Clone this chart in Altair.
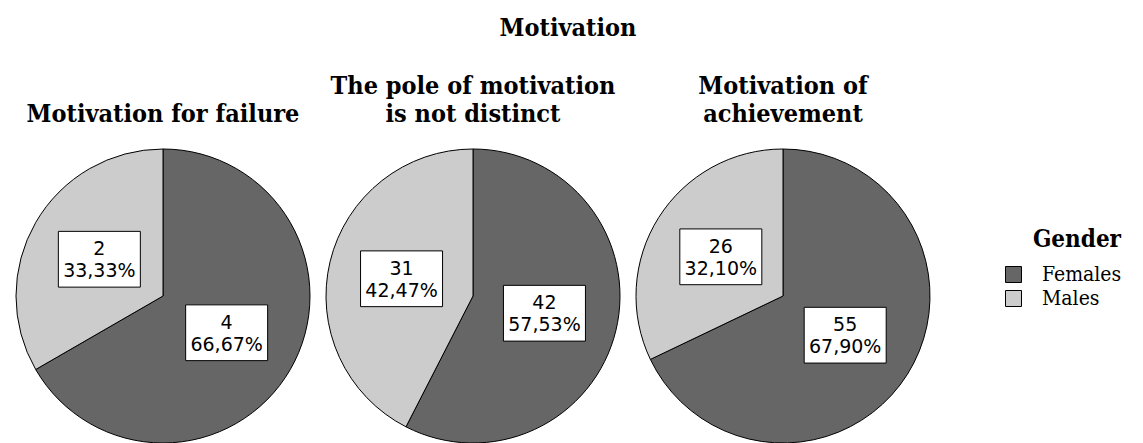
import altair as alt
import pandas as pd

# ---- data ----
categories = ["Motivation for failure",
              "The pole of motivation is not distinct",
              "Motivation of achievement"]
title_lines = [["Motivation for failure"],
               ["The pole of motivation", "is not distinct"],
               ["Motivation of", "achievement"]]
genders = ["Females", "Males"]
females = [4, 42, 55]
males = [2, 31, 26]

rows = []
for i, cat in enumerate(categories):
    total = females[i] + males[i]
    for k, (g, vals) in enumerate(zip(genders, [females, males])):
        v = vals[i]
        pct = f"{v / total * 100:.2f}".replace(".", ",") + "%"
        rows.append({"category": cat, "gender": g, "order": k,
                     "count": v, "label": f"{v}\n{pct}"})
df = pd.DataFrame(rows)

S = 294          # pie diameter (panel size)
LABEL_R = 0.5    # label radius as fraction of pie radius
TITLE_FONT = "DejaVu Serif Condensed"

color_scale = alt.Scale(domain=genders, range=["#666666", "#cccccc"])


def panel(i):
    base = alt.Chart(df).transform_filter(alt.datum.category == categories[i])
    arcs = base.mark_arc(stroke="black", strokeWidth=1).encode(
        theta=alt.Theta("count:Q", stack=True),
        color=alt.Color("gender:N", scale=color_scale,
                        legend=alt.Legend(title="Gender")),
        order=alt.Order("order:Q"),
    )
    pos = (base
           .transform_joinaggregate(total="sum(count)")
           .transform_window(cum="sum(count)", sort=[alt.SortField("order")],
                             frame=[None, 0])
           .transform_calculate(
               ang="(datum.cum - datum.count / 2) / datum.total * 2 * PI",
               lx=f"{LABEL_R} * sin(datum.ang)",
               ly=f"{LABEL_R} * cos(datum.ang)"))
    xs = alt.X("lx:Q", scale=alt.Scale(domain=[-1, 1]), axis=None)
    ys = alt.Y("ly:Q", scale=alt.Scale(domain=[-1, 1]), axis=None)
    boxes = pos.mark_point(shape="M-1,-0.68H1V0.68H-1Z", filled=True,
                           fill="white", stroke="black", strokeWidth=1,
                           size=82 * 82, opacity=1).encode(x=xs, y=ys)
    labels = pos.mark_text(lineBreak="\n", font="DejaVu Sans", fontSize=19,
                           lineHeight=22, dy=-10, color="black").encode(
        x=xs, y=ys, text="label:N")
    return alt.layer(arcs, boxes, labels).properties(
        width=S, height=S,
        title=alt.TitleParams(title_lines[i], font=TITLE_FONT, fontSize=25,
                              fontWeight="bold", anchor="middle",
                              color="black", offset=20, lineHeight=28))


chart = alt.hconcat(panel(0), panel(1), panel(2), spacing=16,
                    bounds="flush").properties(
    title=alt.TitleParams("Motivation", font=TITLE_FONT, fontSize=25,
                          fontWeight="bold", anchor="middle", color="black",
                          offset=33),
    padding={"left": 14, "top": 16, "right": 5, "bottom": 0},
).configure_view(stroke=None).configure_legend(
    orient="none", legendX=987, legendY=79,
    titleFont=TITLE_FONT, titleFontSize=24, titleFontWeight="bold",
    titleColor="black", titleAnchor="end", labelFont=TITLE_FONT,
    labelFontSize=21, labelColor="black", symbolType="square",
    symbolSize=256, symbolStrokeColor="black", symbolStrokeWidth=1,
    symbolOpacity=1, rowPadding=2, labelOffset=18, titlePadding=12,
)

chart.save("out.html", embed_options={"renderer": "svg", "actions": False})
